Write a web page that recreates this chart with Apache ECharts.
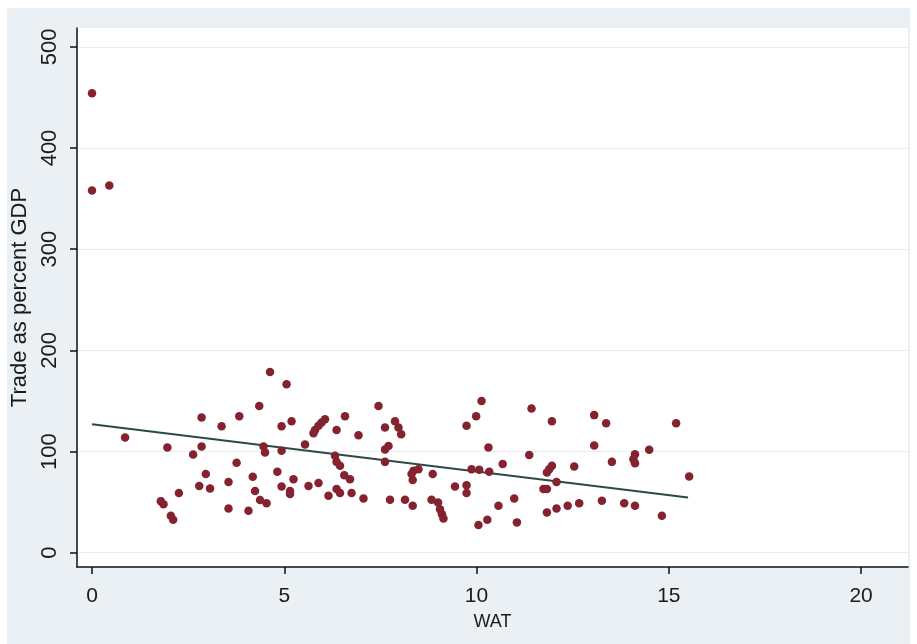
<!DOCTYPE html>
<html lang="en">
<head>
  <meta charset="UTF-8">
  <title>Trade vs WAT</title>
  <script src="https://cdn.jsdelivr.net/npm/echarts@6/dist/echarts.min.js"></script>
  <style>
    html, body { margin: 0; padding: 0; background: #fff; }
    #chart { width: 917px; height: 644px; }
  </style>
</head>
<body>
  <div id="chart"></div>
  <script>
    // WAT values (x) and trade as percent of GDP (y)
    var watX = [
      0, 0, 0.45, 0.86, 1.96, 2.63, 2.26, 1.79, 1.86, 2.05, 2.11,
      4.63, 5.06, 4.35, 2.85, 3.83, 3.37, 4.93, 5.19, 2.85, 4.46, 4.5, 4.93,
      3.76, 2.96, 4.18, 4.82, 5.24, 3.55, 2.79, 3.07, 4.24, 4.93, 5.15, 5.15,
      4.37, 4.54, 3.55, 4.07,
      7.45, 6.58, 6.06, 5.97, 5.89, 5.80, 5.76, 6.36, 6.93, 7.62, 7.88, 7.97, 8.04,
      5.54, 7.71, 7.62, 7.62, 6.32, 6.36, 6.45, 6.56, 6.71, 5.63, 5.89, 6.36, 6.45,
      6.15, 6.75, 7.06, 7.75,
      10.13, 9.99, 9.74, 10.31, 10.68, 8.36, 8.31, 8.34, 8.49, 8.86, 9.87, 10.07,
      10.33, 9.44, 9.74, 9.74, 8.14, 8.34, 8.83, 9.0, 9.05, 9.1, 9.14, 10.57,
      10.05, 10.28,
      11.43, 11.96, 13.06, 13.37, 13.06, 11.37, 13.52, 12.54, 11.96, 11.89, 11.83,
      12.08, 11.74, 11.83, 10.98, 13.26, 11.83, 12.08, 12.37, 12.67, 11.05,
      15.19, 14.49, 14.12, 14.08, 14.12, 15.53, 13.84, 14.12, 14.82
    ];
    var tradeY = [
      454, 358, 363, 114, 104, 97, 59, 51, 48, 36.5, 32.6,
      178.7, 166.5, 145, 133.6, 135, 125, 125, 130, 105, 105, 99, 100.7,
      89, 77.7, 75, 80, 72.7, 70, 66, 63.5, 61, 65.5, 61, 58,
      52, 49, 43.7, 41.5,
      145, 135, 132, 128.6, 125.4, 121.4, 118.2, 121.4, 116, 123.7, 130, 123.7, 117,
      107, 105.6, 102, 89.8, 95.8, 89.8, 85.9, 76.7, 72.7, 66, 68.8, 62.9, 59,
      56.3, 59, 53.6, 52.3,
      150, 135, 125.4, 104, 87.6, 81, 77.7, 72, 82.6, 77.7, 82.6, 82,
      80, 65.5, 66.8, 59, 52.3, 46.4, 52.3, 49.7, 43, 38, 33.9, 46.4,
      27.3, 32.6,
      142.5, 130, 136, 128, 106, 96.7, 89.8, 85.2, 86, 82.6, 79.3,
      70, 62.9, 62.9, 53.6, 51.3, 39.8, 43.7, 46.4, 49, 30,
      128, 101.7, 97.4, 92.5, 88.5, 75.3, 49, 46.4, 36.5
    ];
    // fitted line end points
    var fitX = [0, 15.5];
    var fitY = [127, 54.6];
    var xTicks = [0, 5, 10, 15, 20];
    var yTicks = [0, 100, 200, 300, 400, 500];

    var points = [];
    for (var i = 0; i < watX.length; i++) {
      points.push([watX[i], tradeY[i]]);
    }
    var fitLine = [];
    for (var j = 0; j < fitX.length; j++) {
      fitLine.push([fitX[j], fitY[j]]);
    }
    var gridLines = yTicks.map(function (v) { return { yAxis: v }; });

    var font = 'Arial, "Liberation Sans", sans-serif';
    var myChart = echarts.init(document.getElementById('chart'));
    var option = {
      backgroundColor: '#ffffff',
      animation: false,
      graphic: [{
        type: 'rect',
        z: -10,
        shape: { x: 7, y: 8, width: 903, height: 636 },
        style: { fill: '#eaf0f3' }
      }],
      grid: {
        left: 77, top: 28, right: 9, bottom: 77,
        show: true, backgroundColor: '#ffffff', borderWidth: 0
      },
      xAxis: {
        type: 'value',
        min: -0.39,
        max: 21.22,
        name: 'WAT',
        nameLocation: 'middle',
        nameGap: 46,
        nameTextStyle: { color: '#1a1a1a', fontSize: 18, fontFamily: font },
        axisLine: { show: true, onZero: false, lineStyle: { color: '#111', width: 1.5 } },
        axisTick: { show: true, length: 7, customValues: xTicks, lineStyle: { color: '#111', width: 1.5 } },
        axisLabel: { customValues: xTicks, margin: 19, color: '#1a1a1a', fontSize: 21, fontFamily: font },
        splitLine: { show: false }
      },
      yAxis: {
        type: 'value',
        min: -14.1,
        max: 518.6,
        name: 'Trade as percent GDP',
        nameLocation: 'middle',
        nameGap: 37,
        nameTextStyle: { color: '#1a1a1a', fontSize: 22, fontFamily: font },
        axisLine: { show: true, onZero: false, lineStyle: { color: '#111', width: 1.5 } },
        axisTick: { show: true, length: 7, customValues: yTicks, lineStyle: { color: '#111', width: 1.5 } },
        axisLabel: { customValues: yTicks, rotate: 90, margin: 16, color: '#1a1a1a', fontSize: 22, fontFamily: font },
        splitLine: { show: false }
      },
      series: [
        {
          type: 'scatter',
          data: points,
          symbol: 'circle',
          symbolSize: 8.5,
          itemStyle: { color: '#84232f', opacity: 1 },
          markLine: {
            silent: true,
            symbol: 'none',
            label: { show: false },
            lineStyle: { color: '#e6eef1', width: 1.2, type: 'solid' },
            data: gridLines,
            z: 0
          },
          z: 3
        },
        {
          type: 'line',
          data: fitLine,
          showSymbol: false,
          lineStyle: { color: '#2c4848', width: 2 },
          z: 2
        }
      ]
    };
    myChart.setOption(option);
    window.onresize = function () {
      myChart.resize();
    };
  </script>
</body>
</html>
